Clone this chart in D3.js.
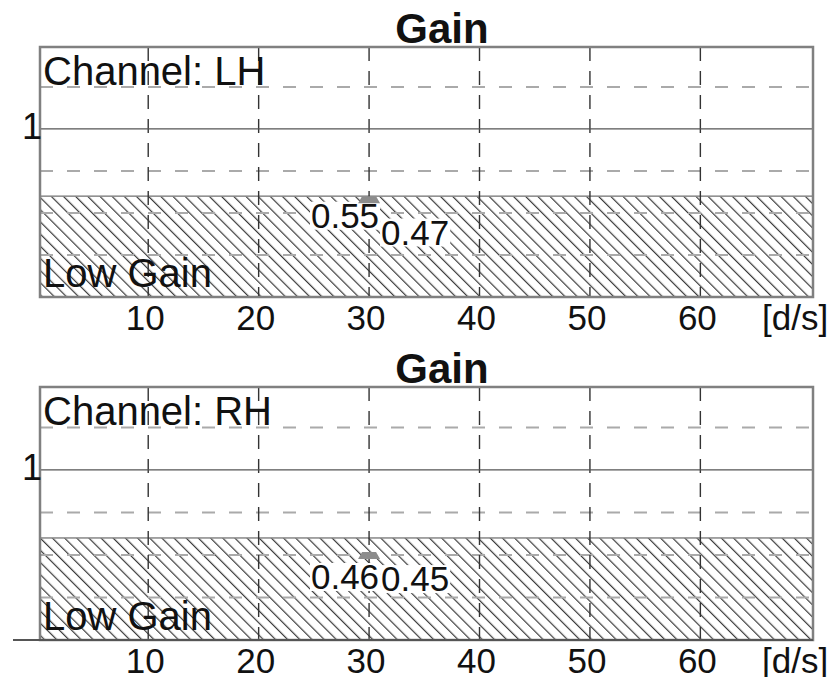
<!DOCTYPE html>
<html>
<head>
<meta charset="utf-8">
<script src="https://cdn.jsdelivr.net/npm/d3@7"></script>
<style>
  body { margin: 0; background: #fff; }
  text { font-family: "Liberation Sans", Arial, Helvetica, sans-serif; fill: #111; }
</style>
</head>
<body>
<div id="chart"></div>
<script>
// values
const channels = ["LH", "RH"];
const xTicks = [10, 20, 30, 40, 50, 60];
const xUnit = "[d/s]";
const yTicks = [1];
const yGrid = [0.4, 0.6, 0.8, 1.2];
const lowGainLimit = 0.68;
const markerSpeed = 30;
const markerGain = [0.665, 0.6];
const gainLabels = [[0.55, 0.47], [0.46, 0.45]];

const W = 840, H = 677;
const left = 40, right = 813;
const panels = [{ top: 47, bottom: 297 }, { top: 387, bottom: 640 }];

const svg = d3.select("#chart").append("svg")
  .attr("width", W)
  .attr("height", H);

const defs = svg.append("defs");
const hatch = defs.append("pattern")
  .attr("id", "hatch")
  .attr("patternUnits", "userSpaceOnUse")
  .attr("width", 8.6)
  .attr("height", 8.6)
  .attr("patternTransform", "rotate(-45)");
hatch.append("line")
  .attr("x1", 0.6).attr("y1", 0)
  .attr("x2", 0.6).attr("y2", 8.6)
  .attr("stroke", "#3a3a3a")
  .attr("stroke-width", 1.2);

const x = d3.scaleLinear().domain([0.2, 70.2]).range([left, right]);

channels.forEach((ch, i) => {
  const p = panels[i];
  const y = d3.scaleLinear().domain([0.2, 1.39]).range([p.bottom, p.top]);
  const g = svg.append("g");

  g.append("clipPath").attr("id", "clip" + i)
    .append("rect")
    .attr("x", left).attr("y", p.top)
    .attr("width", right - left).attr("height", p.bottom - p.top);

  const plot = g.append("g").attr("clip-path", "url(#clip" + i + ")");

  // low gain zone
  plot.append("rect")
    .attr("x", left)
    .attr("y", y(lowGainLimit))
    .attr("width", right - left)
    .attr("height", y(0.2) - y(lowGainLimit))
    .attr("fill", "url(#hatch)")
    .attr("stroke", "#888")
    .attr("stroke-width", 1.5);

  // horizontal grid
  plot.selectAll(".hgrid")
    .data(yGrid)
    .enter().append("line")
    .attr("class", "hgrid")
    .attr("x1", left).attr("x2", right)
    .attr("y1", d => y(d)).attr("y2", d => y(d))
    .attr("stroke", "#aaa")
    .attr("stroke-width", 2)
    .attr("stroke-dasharray", "13,14");

  // vertical grid
  plot.selectAll(".vgrid")
    .data(xTicks)
    .enter().append("line")
    .attr("class", "vgrid")
    .attr("x1", d => x(d)).attr("x2", d => x(d))
    .attr("y1", p.top).attr("y2", p.bottom)
    .attr("stroke", "#333")
    .attr("stroke-width", 1.4)
    .attr("stroke-dasharray", "14,10");

  // reference line at 1
  plot.selectAll(".ref")
    .data(yTicks)
    .enter().append("line")
    .attr("x1", left).attr("x2", right)
    .attr("y1", d => y(d)).attr("y2", d => y(d))
    .attr("stroke", "#555")
    .attr("stroke-width", 1.3);

  // value labels with white boxes
  const labs = plot.selectAll(".lab")
    .data(gainLabels[i])
    .enter().append("g")
    .attr("class", "lab");
  labs.append("text")
    .attr("x", (d, k) => k === 0 ? x(markerSpeed) + 10 : x(markerSpeed) + 12)
    .attr("y", d => y(d) - 5)
    .attr("dominant-baseline", "middle")
    .attr("text-anchor", (d, k) => k === 0 ? "end" : "start")
    .attr("font-size", 35)
    .text(d => d);
  labs.each(function() {
    const t = d3.select(this).select("text");
    const b = t.node().getBBox();
    d3.select(this).insert("rect", "text")
      .attr("x", b.x - 1).attr("y", b.y + 6)
      .attr("width", b.width + 2).attr("height", 28)
      .attr("fill", "#fff");
  });

  // marker
  plot.append("path")
    .attr("transform", "translate(" + x(markerSpeed) + "," + y(markerGain[i]) + ")")
    .attr("d", "M-11,4 L-7,-3 L7,-3 L11,4 Z")
    .attr("fill", "#8c8c8c");

  // texts inside plot
  g.append("text")
    .attr("x", left + 3)
    .attr("y", p.top + 38)
    .attr("font-size", 40)
    .text("Channel: " + ch);
  g.append("text")
    .attr("x", left + 3)
    .attr("y", p.bottom - 10)
    .attr("font-size", 40)
    .text("Low Gain");

  // frame
  g.append("rect")
    .attr("x", left).attr("y", p.top)
    .attr("width", right - left).attr("height", p.bottom - p.top)
    .attr("fill", "none")
    .attr("stroke", "#808080")
    .attr("stroke-width", 2.5);

  if (i === 1) {
    g.append("line")
      .attr("x1", 13).attr("x2", right)
      .attr("y1", p.bottom).attr("y2", p.bottom)
      .attr("stroke", "#555")
      .attr("stroke-width", 2);
  }

  // title
  g.append("text")
    .attr("x", 442)
    .attr("y", p.top - 4)
    .attr("text-anchor", "middle")
    .attr("font-size", 42)
    .attr("font-weight", "bold")
    .text("Gain");

  // y tick label
  g.selectAll(".ytick")
    .data(yTicks)
    .enter().append("text")
    .attr("x", left + 2)
    .attr("y", d => y(d) + 1)
    .attr("dominant-baseline", "middle")
    .attr("text-anchor", "end")
    .attr("font-size", 36)
    .text(d => d);

  // x tick labels
  g.selectAll(".xtick")
    .data(xTicks)
    .enter().append("text")
    .attr("x", d => x(d) - 3)
    .attr("y", p.bottom + 33)
    .attr("text-anchor", "middle")
    .attr("font-size", 35)
    .text(d => d);
  g.append("text")
    .attr("x", 762)
    .attr("y", p.bottom + 33)
    .attr("font-size", 35)
    .text(xUnit);
});
</script>
</body>
</html>
